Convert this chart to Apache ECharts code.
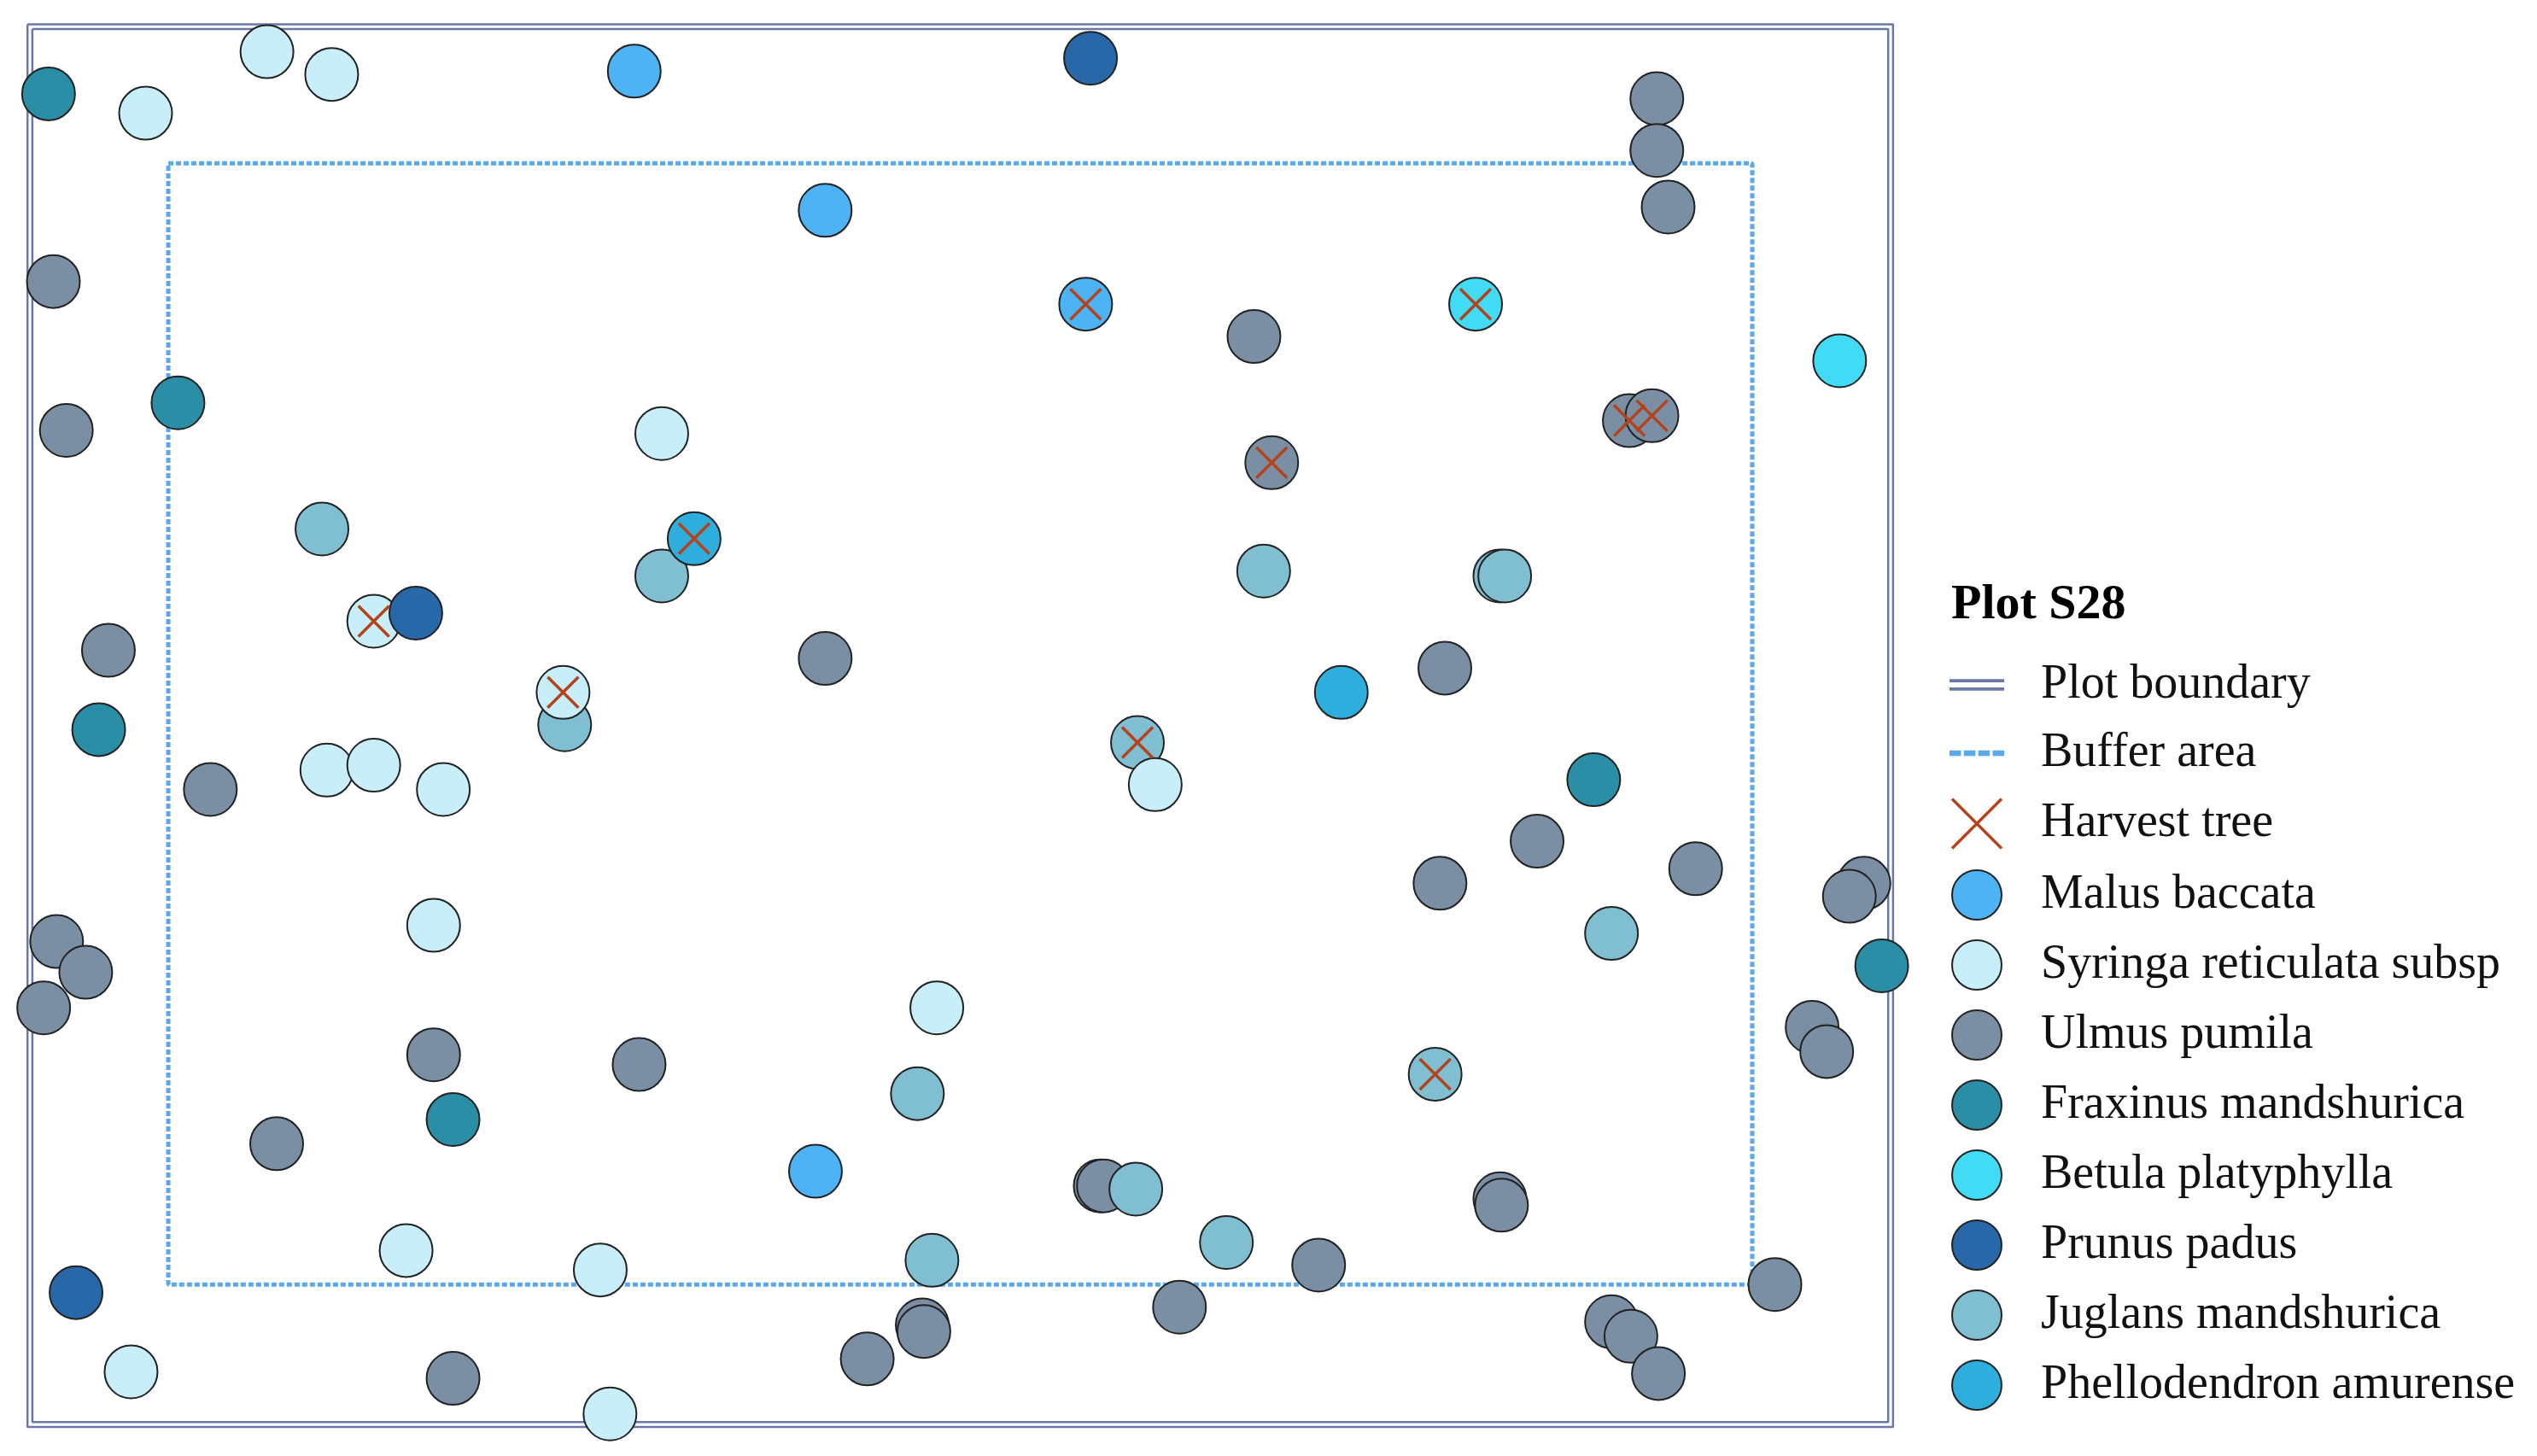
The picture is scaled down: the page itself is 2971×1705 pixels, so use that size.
<!DOCTYPE html>
<html><head><meta charset="utf-8">
<script src="https://cdn.jsdelivr.net/npm/echarts@6/dist/echarts.min.js"></script>
<style>html,body{margin:0;padding:0;background:#fff}#c{width:2971px;height:1705px}</style>
</head><body><div id="c"></div>
<script>
// Tree positions in map units (x right, y down)
const malus = [[392,44],[510,130],[671,188],[504,724]];
const syringa = [[165,32],[205,46],[90,70],[409,268],[231,384],[202,476],[231,473],[274,488],[268,572],[579,623],[251,773],[371,785],[81,848],[377,874],[714,485],[348,428]];
const ulmus = [[1024,61],[1024,93],[1031,128],[33,174],[775,208],[41,266],[786,286],[1007,260],[1021,257],[67,402],[510,407],[893,413],[130,488],[950,520],[890,546],[1048,537],[1152,546],[1143,554],[35,582],[53,601],[27,623],[268,652],[395,658],[1120,635],[1129,650],[171,707],[680,733],[682,733],[927,741],[928,745],[815,782],[1097,794],[729,808],[570,819],[571,823],[536,840],[996,817],[1008,826],[1025,849],[280,852]];
const fraxinus = [[30,58],[110,249],[61,451],[280,692],[985,482],[1163,597]];
const betula = [[912,188],[1137,223]];
const prunus = [[674,36],[257,379],[47,799]];
const juglans = [[199,327],[409,356],[781,353],[927,356],[930,356],[349,448],[703,459],[996,577],[567,676],[887,664],[702,735],[758,768],[576,779]];
const phellodendron = [[829,428],[429,333]];
const harvest = [[671,188],[912,188],[786,286],[1007,260],[1021,257],[429,333],[231,384],[348,428],[703,459],[887,664]];
const boundaryOuter = [[17,15],[1170,15],[1170,882],[17,882],[17,15]];
const boundaryInner = [[20,18],[1167,18],[1167,879],[20,879],[20,18]];
const buffer = [[104,101],[1083,101],[1083,794],[104,794],[104,101]];

const species = [
 ['Malus baccata', malus, '#4db3f5'],
 ['Syringa reticulata subsp', syringa, '#c8eefa'],
 ['Ulmus pumila', ulmus, '#7a8ea4'],
 ['Fraxinus mandshurica', fraxinus, '#2a8fa6'],
 ['Betula platyphylla', betula, '#42dbf5'],
 ['Prunus padus', prunus, '#2868a8'],
 ['Juglans mandshurica', juglans, '#80bfd2'],
 ['Phellodendron amurense', phellodendron, '#2eaedc']
];
const order = ['Ulmus pumila','Juglans mandshurica','Syringa reticulata subsp','Fraxinus mandshurica','Prunus padus','Malus baccata','Betula platyphylla','Phellodendron amurense'];
const cross = 'path://M0,0L10,10M10,0L0,10';
const series = [
 {name:'Plot boundary',type:'line',data:boundaryOuter,symbol:'none',lineStyle:{color:'#6a78a8',width:2.5},itemStyle:{color:'#6a78a8'},z:1},
 {name:'Plot boundary',type:'line',data:boundaryInner,symbol:'none',lineStyle:{color:'#6a78a8',width:2.5},itemStyle:{color:'#6a78a8'},z:1},
 {name:'Buffer area',type:'line',data:buffer,symbol:'none',lineStyle:{color:'#5aa8f0',width:5,type:[6,3]},itemStyle:{color:'#5aa8f0'},z:1}
];
order.forEach(n=>{const s=species.find(a=>a[0]===n);
 series.push({name:s[0],type:'scatter',data:s[1],symbolSize:62,itemStyle:{color:s[2],borderColor:'#222',borderWidth:2,opacity:1},z:3});});
series.push({name:'Harvest tree',type:'scatter',data:harvest,symbol:cross,symbolSize:36,itemStyle:{color:'none',borderColor:'#b4431c',borderWidth:3.5,opacity:1},z:5});
const legendData=[
 {name:'Plot boundary',icon:'path://M0,0H20V1.2H0ZM0,3H20V4.2H0Z'},
 {name:'Buffer area',icon:'path://M0,0H4V2H0ZM5,0H9V2H5ZM10,0H14V2H10ZM15,0H19V2H15Z'},
 {name:'Harvest tree',icon:cross,itemStyle:{color:'none',borderColor:'#b4431c',borderWidth:3.5}}
].concat(species.map(s=>({name:s[0],icon:'circle',itemStyle:{color:s[2],borderColor:'#222',borderWidth:2}})));
const chart=echarts.init(document.getElementById('c'));
chart.setOption({
 animation:false,
 title:{text:'Plot S28',left:2280,top:675,textStyle:{fontFamily:'Liberation Serif',fontSize:58,fontWeight:'bold',color:'#000'}},
 legend:{orient:'vertical',left:2278,top:768,itemWidth:64,itemHeight:58,itemGap:22,data:legendData,
   textStyle:{fontFamily:'Liberation Serif',fontSize:56,lineHeight:58,color:'#111',padding:[0,0,0,38]}},
 grid:{left:0,right:0,top:0,bottom:0},
 xAxis:{type:'value',min:0,max:1568,show:false},
 yAxis:{type:'value',min:0,max:900,inverse:true,show:false},
 series:series
});
</script></body></html>
